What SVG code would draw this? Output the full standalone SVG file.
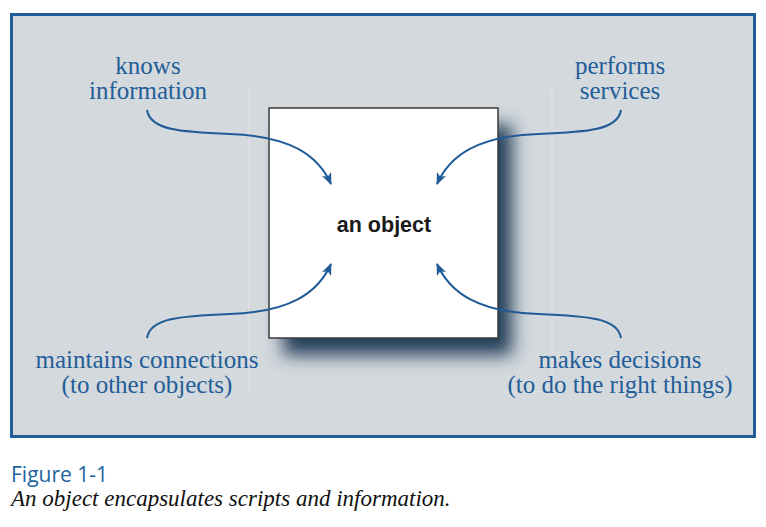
<svg xmlns="http://www.w3.org/2000/svg" width="766" height="527" viewBox="0 0 766 527">
<defs>
<style>
.lbl{font-family:"Liberation Serif","Times New Roman",serif;font-size:25px;fill:#235d97;text-anchor:middle}
.conn{fill:none;stroke:#1f5b96;stroke-width:2}
</style>
<marker id="ah" viewBox="0 0 12 10" refX="11" refY="5" markerWidth="12" markerHeight="10" markerUnits="userSpaceOnUse" orient="auto">
<path d="M0,0 L12,5 L0,10 L3,5 Z" fill="#1f5b96"/>
</marker>
<filter id="sh" x="-20%" y="-20%" width="150%" height="150%">
<feGaussianBlur stdDeviation="9"/>
</filter>
</defs>
<rect width="766" height="527" fill="#ffffff"/>
<rect x="11.5" y="14.5" width="743" height="422" fill="#d4d9de" stroke="#215e99" stroke-width="3"/>
<rect x="249" y="88" width="303" height="304" fill="none" stroke="#dfe3e7" stroke-width="1"/>
<g id="object">
<rect x="283" y="125" width="229" height="230" fill="#233c58" filter="url(#sh)"/>
<rect x="269" y="108" width="229" height="230" fill="#ffffff" stroke="#3a3a3a" stroke-width="1.5"/>
<text x="384" y="232" font-family="Liberation Sans, Arial, sans-serif" font-size="21.5" font-weight="bold" fill="#1a1a1a" text-anchor="middle">an object</text>
</g>
<g id="knows">
<text class="lbl" x="148" y="74">knows</text>
<text class="lbl" x="148" y="99">information</text>
</g>
<g id="performs">
<text class="lbl" x="620" y="74">performs</text>
<text class="lbl" x="620" y="99">services</text>
</g>
<g id="maintains">
<text class="lbl" x="147" y="368">maintains connections</text>
<text class="lbl" x="147" y="393">(to other objects)</text>
</g>
<g id="decisions">
<text class="lbl" x="620" y="368">makes decisions</text>
<text class="lbl" x="620" y="393">(to do the right things)</text>
</g>
<g id="connectors">
<path class="conn" marker-end="url(#ah)" d="M147,110 C150,130 180,132 230,134 C290,136 318,155 331,184"/>
<path class="conn" marker-end="url(#ah)" d="M621,110 C618,130 588,132 538,134 C478,136 450,155 437,184"/>
<path class="conn" marker-end="url(#ah)" d="M147,338 C150,318 180,316 230,314 C290,312 318,293 331,264"/>
<path class="conn" marker-end="url(#ah)" d="M621,338 C618,318 588,316 538,314 C478,312 450,293 437,264"/>
</g>
<text x="11" y="482" font-family="Open Sans, Noto Sans, sans-serif" font-size="21" fill="#1e63a0">Figure 1-1</text>
<text x="11" y="506" font-family="Liberation Serif, Times New Roman, serif" font-size="23" font-style="italic" fill="#111111">An object encapsulates scripts and information.</text>
</svg>
